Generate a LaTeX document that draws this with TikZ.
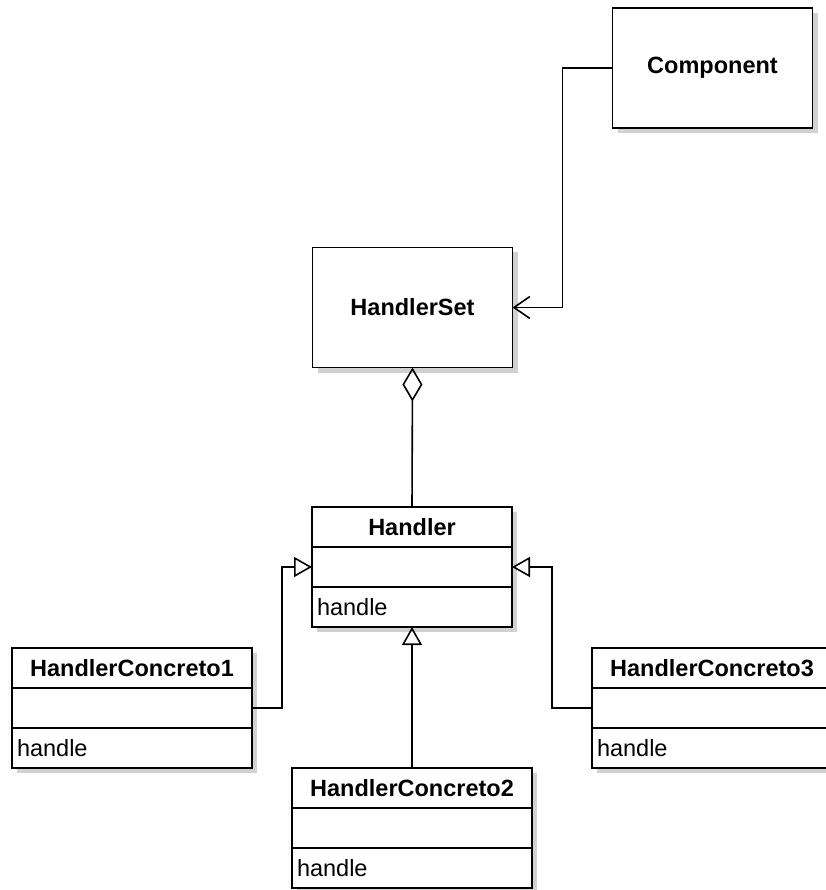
\documentclass[tikz,border=0pt]{standalone}
\usepackage{fontspec}
\setmainfont{Liberation Sans}
\usetikzlibrary{positioning, arrows.meta, shadows}

\begin{document}
\begin{tikzpicture}[x=1pt, y=-1pt, font=\fontsize{23.5}{28}\selectfont,
  box/.style={draw, line width=1.6pt, fill=white, inner sep=0pt, outer sep=0pt,
    drop shadow={shadow xshift=5pt, shadow yshift=-5pt, fill=black!18, opacity=1}},
  big/.style={box, minimum width=200pt, minimum height=120pt, font=\fontsize{23.5}{28}\selectfont\bfseries},
  tit/.style={box, minimum height=40pt, font=\fontsize{23.5}{28}\selectfont\bfseries},
  att/.style={box, minimum height=40pt},
  ops/.style={box, minimum height=40pt, align=left, inner xsep=5pt},
  s/.style={line width=1.6pt},
  gen/.style={s, -{Triangle[open, length=18pt, width=20pt]}},
  dep/.style={s, -{Straight Barb[length=16pt, width=22pt]}},
  agg/.style={s, {Diamond[open, length=34pt, width=20pt]}-}]
  \useasboundingbox (0,0) rectangle (825,890);

  \node[big] (Comp) at (712.5,68) {Component};
  \node[big] (HSet) at (412.5,307.5) {HandlerSet};

  \node[tit, minimum width=200pt] (H) at (412,527) {Handler};
  \node[att, minimum width=200pt, below=0pt of H] (H_att) {};
  \node[ops, text width=190pt, below=0pt of H_att] (H_op) {handle};

  \node[tit, minimum width=240pt] (C1) at (132,668) {HandlerConcreto1};
  \node[att, minimum width=240pt, below=0pt of C1] (C1_att) {};
  \node[ops, text width=230pt, below=0pt of C1_att] (C1_op) {handle};

  \node[tit, minimum width=240pt] (C2) at (412,788) {HandlerConcreto2};
  \node[att, minimum width=240pt, below=0pt of C2] (C2_att) {};
  \node[ops, text width=230pt, below=0pt of C2_att] (C2_op) {handle};

  \node[tit, minimum width=240pt] (C3) at (712,668) {HandlerConcreto3};
  \node[att, minimum width=240pt, below=0pt of C3] (C3_att) {};
  \node[ops, text width=230pt, below=0pt of C3_att] (C3_op) {handle};

  \draw[dep] (Comp.west) -- ++(-50,0) |- (HSet.east);
  \draw[agg] (HSet.south) -- (H.north);
  \draw[gen] (C1_att.east) -- ++(30,0) |- (H_att.west);
  \draw[gen] (C2.north) -- (H_op.south);
  \draw[gen] (C3_att.west) -- ++(-40,0) |- (H_att.east);
\end{tikzpicture}
\end{document}
